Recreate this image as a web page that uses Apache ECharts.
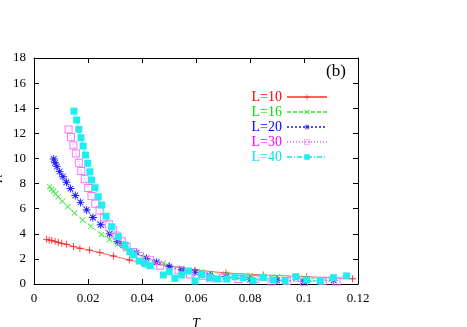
<!DOCTYPE html>
<html><head><meta charset="utf-8">
<script src="https://cdn.jsdelivr.net/npm/echarts@6/dist/echarts.min.js"></script>
<style>html,body{margin:0;padding:0;background:#fff}#c{width:467px;height:327px}</style>
</head><body><div id="c"></div>
<script>
const xTicks = [0, 0.02, 0.04, 0.06, 0.08, 0.1, 0.12];
const yTicks = [0, 2, 4, 6, 8, 10, 12, 14, 16, 18];
const seriesNames = ['L=10', 'L=16', 'L=20', 'L=30', 'L=40'];

const T10 = [0.0047,0.0056,0.0066,0.0078,0.009,0.0103,0.0121,0.0146,0.017,0.0205,0.0244,0.0294,0.0353,0.0399,0.05,0.0596,0.0711,0.0849,0.101,0.118];
const V10 = [3.56,3.50,3.47,3.40,3.32,3.24,3.16,2.98,2.85,2.70,2.50,2.23,1.91,1.72,1.45,1.12,0.88,0.72,0.58,0.42];

const T16 = [0.0058,0.0065,0.0072,0.008,0.009,0.0105,0.0125,0.015,0.018,0.021,0.025,0.028,0.031,0.034,0.037,0.041,0.0479,0.0547,0.0621,0.071,0.08,0.09,0.1,0.11];
const V16 = [7.75,7.55,7.38,7.18,6.95,6.6,6.15,5.65,5.1,4.6,3.95,3.55,3.15,2.8,2.45,2.15,1.65,1.25,0.98,0.8,0.65,0.55,0.45,0.38];

const T20 = [0.0073,0.0078,0.0085,0.0095,0.0107,0.012,0.0135,0.0153,0.0172,0.0195,0.0218,0.0247,0.028,0.031,0.0331,0.038,0.0417,0.0454,0.0501,0.0547,0.0596,0.0652,0.0711,0.08,0.09,0.1,0.111];
const V20 = [9.95,9.65,9.35,8.95,8.55,8.1,7.6,7.05,6.5,5.9,5.3,4.72,4.0,3.4,3.1,2.5,2.04,1.73,1.38,1.11,0.93,0.66,0.58,0.35,0.3,0.22,0.3];

const T30 = [0.0128,0.0137,0.0146,0.0155,0.0166,0.0175,0.0188,0.0201,0.0213,0.0227,0.0243,0.026,0.0277,0.0292,0.0306,0.0325,0.0343,0.0368,0.0393,0.043,0.0467,0.0535,0.0578,0.0625,0.0652,0.07,0.0757,0.082,0.088,0.0936,0.1,0.107,0.112];
const V30 = [12.3,11.7,11.05,10.4,9.65,9.0,8.35,7.65,7.0,6.4,5.85,5.3,4.75,4.3,3.85,3.4,2.97,2.55,2.22,1.9,1.45,1.1,0.75,0.65,0.45,0.5,0.4,0.4,0.2,0.24,0.15,0.25,0.2];

const T40 = [0.0148,0.0158,0.0166,0.0174,0.0182,0.0191,0.0199,0.0207,0.0213,0.0226,0.0238,0.0251,0.0267,0.0288,0.0312,0.0337,0.0355,0.0368,0.039,0.0412,0.043,0.0479,0.0501,0.0522,0.0547,0.0572,0.0596,0.0621,0.0652,0.068,0.0714,0.0744,0.0775,0.0812,0.0849,0.0886,0.093,0.097,0.101,0.106,0.1109,0.1158];
const V40 = [13.77,13.06,12.32,11.65,10.99,10.27,9.61,8.94,8.28,7.67,6.95,6.29,5.4,4.56,3.77,3.1,2.57,2.31,1.83,1.6,1.45,0.72,0.98,0.45,0.72,1.04,0.24,0.72,0.5,0.4,0.4,0.58,0.5,0.26,0.53,0.32,0.26,0.58,0.32,0.24,0.5,0.64];

const colors = ['#ff0000', '#00e000', '#0000ff', '#ff00ff', '#00e8e8'];
const markerColors = ['#ff2020', '#40e840', '#2020ff', '#ff70ff', '#20eeee'];
const lineColors = ['#ff6060', '#60ee60', '#5050ff', '#ff80ff', '#40f0f0'];
const dashes = ['solid', [4, 2], [2, 2], [1, 2], [5, 2, 1, 2]];
const plusPath = 'path://M0,4.4H10V5.6H0Z M4.4,0H5.6V10H4.4Z';
const xPath = 'path://M0,1L1,0L10,9L9,10Z M9,0L10,1L1,10L0,9Z';
const starPath = 'path://M0,4.4H10V5.6H0Z M4.4,0H5.6V10H4.4Z M1,1.8L1.8,1L9,8.2L8.2,9Z M8.2,1L9,1.8L1.8,9L1,8.2Z M3,3H7V7H3Z';
const sqPath = 'path://M0,0H10V10H0Z M1.2,1.2V8.8H8.8V1.2Z';
const symbols = [plusPath, xPath, starPath, sqPath, 'rect'];
const sizes = [7, 6, 8, 8, 7];
const Ts = [T10, T16, T20, T30, T40];
const Vs = [V10, V16, V20, V30, V40];

const serif = '"Liberation Serif", "DejaVu Serif", serif';

const series = seriesNames.map((n, i) => ({
  name: n,
  type: 'line',
  xAxisIndex: 0, yAxisIndex: 0,
  data: Ts[i].map((t, k) => [t, Vs[i][k]]),
  symbol: symbols[i],
  symbolSize: sizes[i],
  showSymbol: true,
  itemStyle: { color: markerColors[i], borderWidth: 0 },
  lineStyle: { color: lineColors[i], width: 1, type: dashes[i] },
  animation: false,
  z: 2 + i
}));

const chart = echarts.init(document.getElementById('c'), null, { renderer: 'canvas' });
const axisCommon = {
  axisLine: { show: true, onZero: false, lineStyle: { color: '#000', width: 1 } },
  axisTick: { show: true, inside: true, length: 5, lineStyle: { color: '#000' } },
  splitLine: { show: false }
};
chart.setOption({
  animation: false,
  backgroundColor: '#fff',
  grid: { left: 34, right: 109, top: 58, bottom: 43, containLabel: false, outerBoundsMode: 'none' },
  xAxis: [
    Object.assign({ type: 'value', min: xTicks[0], max: xTicks[xTicks.length - 1], interval: 0.02, position: 'bottom',
      name: 'T', nameLocation: 'middle', nameGap: 33,
      nameTextStyle: { fontFamily: serif, fontStyle: 'italic', fontSize: 14, color: '#000' },
      axisLabel: { margin: 8, fontFamily: serif, fontSize: 13, color: '#000', formatter: v => String(+v.toFixed(2)) } }, axisCommon),
    Object.assign({ type: 'value', min: xTicks[0], max: xTicks[xTicks.length - 1], interval: 0.02, position: 'top',
      axisLabel: { show: false } }, axisCommon)
  ],
  yAxis: [
    Object.assign({ type: 'value', min: yTicks[0], max: yTicks[yTicks.length - 1], interval: 2, position: 'left',
      name: '{a|χ}{b|SG}', nameLocation: 'middle', nameGap: 27, nameRotate: 90,
      nameTextStyle: { color: '#000', rich: { a: { fontFamily: serif, fontSize: 17, color: '#000' }, b: { fontFamily: serif, fontSize: 12, color: '#000', verticalAlign: 'bottom', padding: [6, 0, 0, 0] } } },
      axisLabel: { margin: 8, fontFamily: serif, fontSize: 13, color: '#000' } }, axisCommon),
    Object.assign({ type: 'value', min: yTicks[0], max: yTicks[yTicks.length - 1], interval: 2, position: 'right',
      axisLabel: { show: false } }, axisCommon)
  ],
  legend: {
    orient: 'vertical', right: 134, top: 85, align: 'right',
    itemWidth: 40, itemHeight: 7, itemGap: 1,
    textStyle: { fontFamily: serif, fontSize: 14 },
    data: seriesNames.map((n, i) => ({ name: n, textStyle: { color: colors[i] } }))
  },
  graphic: [{ type: 'text', left: 326, top: 63, style: { text: '(b)', font: '17px ' + serif, fill: '#000' } }],
  series: series
});
</script></body></html>
